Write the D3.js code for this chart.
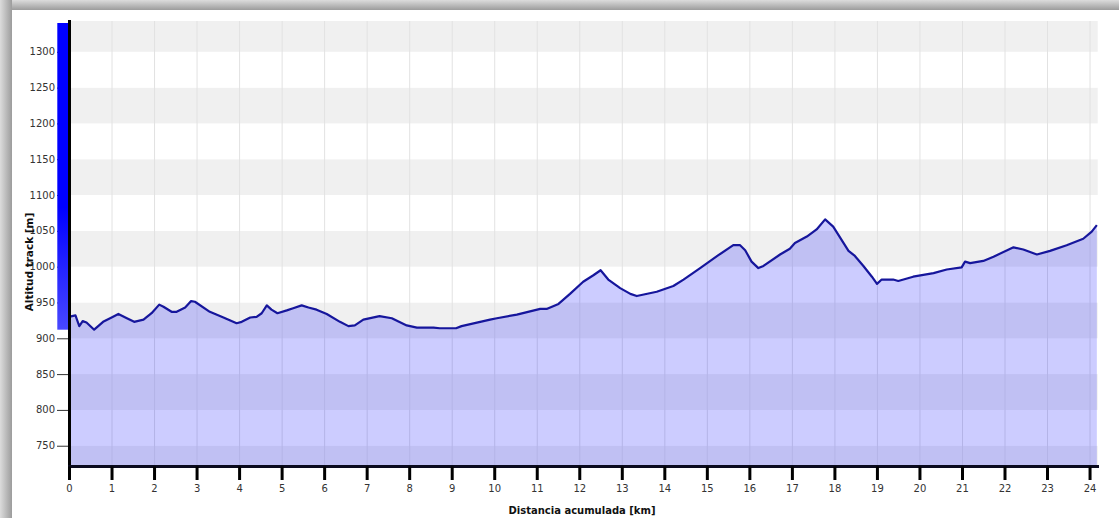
<!DOCTYPE html>
<html>
<head>
<meta charset="utf-8">
<script src="https://cdn.jsdelivr.net/npm/d3@7"></script>
<style>
  html, body { margin: 0; padding: 0; background: #fff; overflow: hidden; }
  svg { display: block; }
</style>
</head>
<body>
<div id="chart"></div>
<script>
// distance (km) and altitude (m)
const dist = [0, 0.06, 0.14, 0.23, 0.31, 0.40, 0.58, 0.79, 0.99, 1.15, 1.35, 1.52, 1.74, 1.93, 2.11, 2.21,
  2.40, 2.52, 2.72, 2.86, 2.95, 3.30, 3.62, 3.93, 4.05, 4.25, 4.40, 4.52, 4.64, 4.75, 4.89, 5.11, 5.26,
  5.46, 5.62, 5.81, 6.05, 6.36, 6.56, 6.71, 6.91, 7.29, 7.58, 7.93, 8.17, 8.56, 8.71, 9.09, 9.22, 9.89,
  10.05, 10.52, 11.07, 11.22, 11.50, 11.77, 12.08, 12.32, 12.49, 12.67, 12.95, 13.19, 13.34, 13.81,
  14.20, 14.44, 14.83, 15.26, 15.61, 15.77, 15.89, 16.04, 16.20, 16.32, 16.71, 16.94, 17.06, 17.34,
  17.57, 17.77, 17.96, 18.32, 18.47, 18.67, 18.87, 18.99, 19.10, 19.37, 19.49, 19.84, 20.32, 20.63,
  20.98, 21.06, 21.18, 21.49, 21.73, 22.20, 22.43, 22.75, 23.06, 23.45, 23.84, 24.04, 24.16];
const alt = [930, 931, 932, 917, 924, 922, 912, 923, 929, 934, 928, 923, 926, 935, 947, 944,
  937, 937, 943, 952, 951, 937, 929, 921, 923, 929, 930, 935, 946, 940, 935, 939, 942,
  946, 943, 940, 934, 923, 917, 918, 926, 931, 928, 918, 915, 915, 914, 914, 917, 926,
  928, 933, 941, 941, 948, 962, 979, 988, 995, 982, 970, 962, 959, 965,
  973, 982, 998, 1016, 1030, 1030, 1023, 1007, 998, 1001, 1017, 1025, 1033, 1042,
  1052, 1066, 1056, 1022, 1015, 1001, 986, 976, 982, 982, 980, 986, 991, 996,
  999, 1007, 1005, 1008, 1014, 1027, 1024, 1017, 1022, 1030, 1039, 1049, 1058];
const xTicks = d3.range(0, 25);
const yTicks = [750, 800, 850, 900, 950, 1000, 1050, 1100, 1150, 1200, 1250, 1300];

const width = 1119, height = 518;
const data = dist.map((d, i) => ({ d: d, a: alt[i] }));

const svg = d3.select("#chart").append("svg")
    .attr("width", width)
    .attr("height", height)
    .style("font-family", "'DejaVu Sans', Verdana, sans-serif");

const defs = svg.append("defs");

// frame shadow (top and left edges)
const sh = defs.append("linearGradient").attr("id", "shTop")
    .attr("x1", 0).attr("y1", 0).attr("x2", 0).attr("y2", 1);
sh.append("stop").attr("offset", 0).attr("stop-color", "#dcdcdc");
sh.append("stop").attr("offset", 1).attr("stop-color", "#9c9c9c");
const sl = defs.append("linearGradient").attr("id", "shLeft")
    .attr("x1", 0).attr("y1", 0).attr("x2", 1).attr("y2", 0);
sl.append("stop").attr("offset", 0).attr("stop-color", "#dcdcdc");
sl.append("stop").attr("offset", 1).attr("stop-color", "#9c9c9c");
svg.append("rect").attr("x", 0).attr("y", 0).attr("width", width).attr("height", 10).attr("fill", "url(#shTop)");
svg.append("rect").attr("x", 0).attr("y", 0).attr("width", 12).attr("height", height).attr("fill", "url(#shLeft)");

const x = d3.scaleLinear().domain([0, 24.18]).range([69.5, 1097.7]);
const y = d3.scaleLinear().domain([721, 1343]).range([466.5, 21]);
const [y0, y1] = y.domain();

// alternating bands
const edges = [y0].concat(yTicks, [y1]);
const bands = svg.append("g");
for (let i = 0; i < edges.length - 1; i++) {
    bands.append("rect")
        .attr("x", x(0)).attr("width", x(24.18) - x(0))
        .attr("y", y(edges[i + 1])).attr("height", y(edges[i]) - y(edges[i + 1]))
        .attr("fill", i % 2 == 0 ? "#f0f0f0" : "#ffffff");
}

// vertical grid
svg.append("g").selectAll("line")
    .data(xTicks.slice(1))
    .enter().append("line")
    .attr("x1", d => x(d)).attr("x2", d => x(d))
    .attr("y1", y(y1)).attr("y2", y(y0))
    .attr("stroke", "#e2e2e2");

const area = d3.area().x(d => x(d.d)).y0(y(y0)).y1(d => y(d.a));
const line = d3.line().x(d => x(d.d)).y(d => y(d.a));

svg.append("path").datum(data)
    .attr("d", area)
    .attr("fill", "#0000ff")
    .attr("fill-opacity", 0.2);

svg.append("path").datum(data)
    .attr("d", line)
    .attr("fill", "none")
    .attr("stroke", "#16169c")
    .attr("stroke-width", 2.2)
    .attr("stroke-linejoin", "round");

// y axis ticks and labels
const yg = svg.append("g");
yg.selectAll("line").data(yTicks).enter().append("line")
    .attr("x1", 57).attr("x2", 69)
    .attr("y1", d => y(d) + 0.5).attr("y2", d => y(d) + 0.5)
    .attr("stroke", "#333");
yg.selectAll("text").data(yTicks).enter().append("text")
    .attr("x", 55).attr("y", d => y(d) + 3.5)
    .attr("text-anchor", "end")
    .attr("font-size", 10)
    .attr("fill", "#333")
    .text(d => d);

// altitude range bar
const grad = defs.append("linearGradient")
    .attr("id", "bar").attr("x1", 0).attr("y1", 0).attr("x2", 0).attr("y2", 1);
grad.append("stop").attr("offset", "0.6").attr("stop-color", "#0000ff");
grad.append("stop").attr("offset", "1").attr("stop-color", "#4848ff");
svg.append("rect")
    .attr("x", 57.3).attr("width", 11)
    .attr("y", 23).attr("height", y(d3.min(alt)) - 23)
    .attr("fill", "url(#bar)");

// axis lines
svg.append("line")
    .attr("x1", x(0)).attr("x2", x(0))
    .attr("y1", 20).attr("y2", y(y0) + 1.5)
    .attr("stroke", "#000").attr("stroke-width", 3);
svg.append("line")
    .attr("x1", x(0) - 1.5).attr("x2", 1099)
    .attr("y1", y(y0)).attr("y2", y(y0))
    .attr("stroke", "#0a0a1e").attr("stroke-width", 3);

// x axis ticks and labels
const xg = svg.append("g");
xg.selectAll("line").data(xTicks).enter().append("line")
    .attr("x1", d => x(d)).attr("x2", d => x(d))
    .attr("y1", y(y0)).attr("y2", 480)
    .attr("stroke", "#000").attr("stroke-width", 3);
xg.selectAll("text").data(xTicks).enter().append("text")
    .attr("x", d => x(d)).attr("y", 492)
    .attr("text-anchor", "middle")
    .attr("font-size", 10)
    .attr("fill", "#333")
    .text(d => d);

svg.append("text")
    .attr("x", 582).attr("y", 514)
    .attr("text-anchor", "middle")
    .attr("font-size", 10).attr("font-weight", "bold")
    .attr("fill", "#111")
    .text("Distancia acumulada [km]");

svg.append("text")
    .attr("transform", "translate(33,262) rotate(-90)")
    .attr("text-anchor", "middle")
    .attr("font-size", 10.5).attr("font-weight", "bold")
    .attr("fill", "#111")
    .text("Altitud track [m]");
</script>
</body>
</html>
